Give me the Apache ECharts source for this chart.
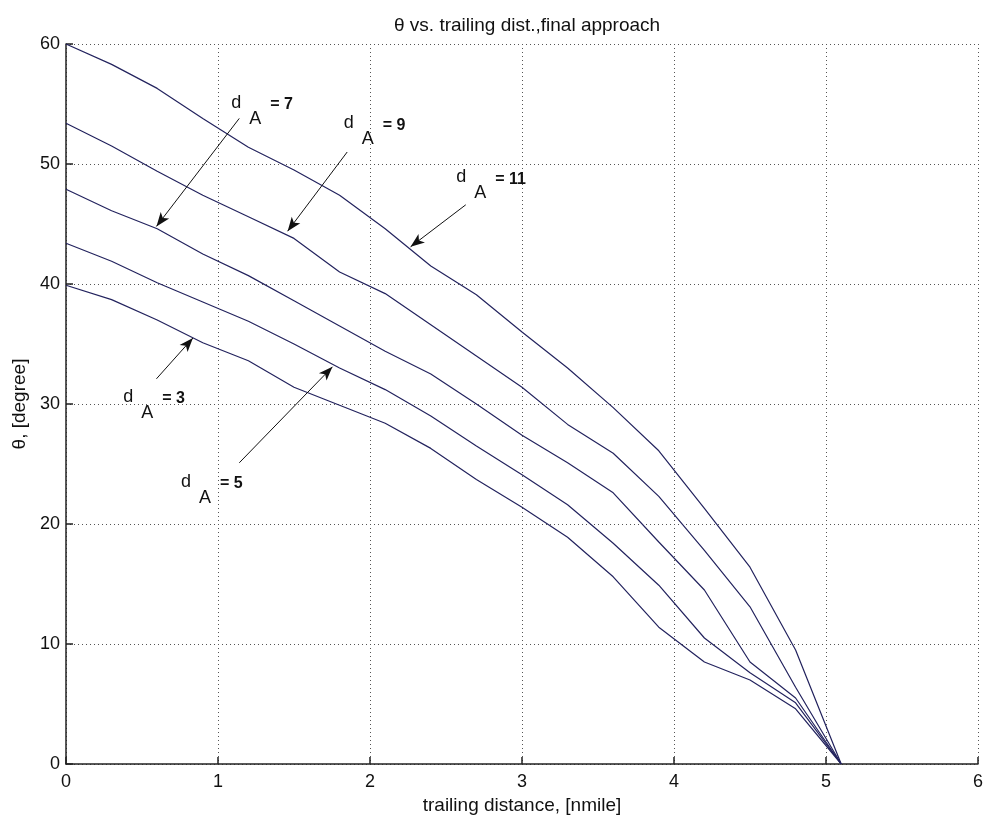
<!DOCTYPE html>
<html>
<head>
<meta charset="utf-8">
<script src="https://cdn.jsdelivr.net/npm/echarts@6/dist/echarts.min.js"></script>
<style>
  html, body { margin: 0; padding: 0; background: #fff; }
  #main { width: 986px; height: 820px; }
</style>
</head>
<body>
<div id="main"></div>
<script>
// trailing distance samples, nmile
const dist = [0, 0.3, 0.6, 0.9, 1.2, 1.5, 1.8, 2.1, 2.4, 2.7, 3.0, 3.3, 3.6, 3.9, 4.2, 4.5, 4.8, 5.1]

// theta in degree, one curve per d_A
const thetaA11 = [60, 58.3, 56.3, 53.8, 51.4, 49.5, 47.4, 44.6, 41.5, 39.1, 36.0, 33.0, 29.7, 26.1, 21.3, 16.4, 9.5, 0]
const thetaA9 = [53.4, 51.5, 49.4, 47.4, 45.6, 43.8, 41.0, 39.2, 36.6, 34.0, 31.4, 28.3, 25.9, 22.3, 17.8, 13.1, 6.4, 0]
const thetaA7 = [47.9, 46.1, 44.6, 42.5, 40.7, 38.6, 36.5, 34.4, 32.5, 30.0, 27.4, 25.1, 22.6, 18.5, 14.5, 8.5, 5.5, 0]
const thetaA5 = [43.4, 41.9, 40.1, 38.5, 36.9, 35.0, 33.0, 31.2, 29.0, 26.5, 24.1, 21.6, 18.4, 14.9, 10.5, 7.6, 5.1, 0]
const thetaA3 = [39.9, 38.7, 37.0, 35.1, 33.6, 31.4, 29.9, 28.4, 26.3, 23.7, 21.4, 18.9, 15.6, 11.4, 8.5, 7.0, 4.6, 0]

// annotations (data coords)
const noteValue = ['7', '9', '11', '3', '5']
const noteAt = [[1.12, 55.1], [1.86, 53.4], [2.60, 48.9], [0.41, 30.6], [0.79, 23.5]]
const arrowFrom = [[1.14, 53.8], [1.85, 51.0], [2.63, 46.6], [0.595, 32.1], [1.14, 25.1]]
const arrowTo = [[0.595, 44.8], [1.458, 44.4], [2.267, 43.1], [0.835, 35.5], [1.753, 33.1]]

const font = '"Liberation Sans", Arial, Helvetica, sans-serif'
const lineColor = '#23235e'

const pair = (ys) => dist.map((x, i) => [x, ys[i]])

const chart = echarts.init(document.getElementById('main'))

const option = {
  animation: false,
  backgroundColor: '#fff',
  title: {
    text: 'θ vs. trailing dist.,final approach',
    left: 389,
    top: 11,
    textStyle: { fontFamily: font, fontSize: 19, fontWeight: 'normal', color: '#111' }
  },
  grid: { left: 66, right: 5, top: 44, bottom: 56 },
  xAxis: {
    type: 'value',
    min: 0,
    max: 6,
    interval: 1,
    name: 'trailing distance, [nmile]',
    nameLocation: 'middle',
    nameGap: 32,
    nameTextStyle: { fontFamily: font, fontSize: 19, color: '#111' },
    axisLine: { lineStyle: { color: '#222', width: 1.5 } },
    axisTick: { inside: true, length: 7, lineStyle: { color: '#222', width: 1.5 } },
    axisLabel: { fontFamily: font, fontSize: 18, color: '#111', margin: 9 },
    splitLine: { show: true, lineStyle: { color: '#555', type: [1, 3], width: 1 } }
  },
  yAxis: {
    type: 'value',
    min: 0,
    max: 60,
    interval: 10,
    name: 'θ, [degree]',
    nameLocation: 'middle',
    nameGap: 34,
    nameTextStyle: { fontFamily: font, fontSize: 19, color: '#111' },
    axisLine: { show: true, lineStyle: { color: '#222', width: 1.5 } },
    axisTick: { show: true, inside: true, length: 7, lineStyle: { color: '#222', width: 1.5 } },
    axisLabel: { fontFamily: font, fontSize: 18, color: '#111', margin: 6 },
    splitLine: { show: true, lineStyle: { color: '#555', type: [1, 3], width: 1 } }
  },
  series: [
    { name: 'dA=11', data: pair(thetaA11) },
    { name: 'dA=9', data: pair(thetaA9) },
    { name: 'dA=7', data: pair(thetaA7) },
    { name: 'dA=5', data: pair(thetaA5) },
    { name: 'dA=3', data: pair(thetaA3) }
  ].map(function (s, i) {
    const out = {
      name: s.name,
      type: 'line',
      data: s.data,
      symbol: 'none',
      lineStyle: { color: lineColor, width: 1.2 },
      z: 3
    }
    if (i === 0) {
      out.markLine = {
        silent: true,
        symbol: ['none', 'arrow'],
        symbolSize: [8, 14],
        label: { show: false },
        lineStyle: { color: '#111', width: 1, type: 'solid' },
        data: arrowFrom.map((p, k) => [{ coord: p }, { coord: arrowTo[k] }])
      }
    }
    return out
  })
}

chart.setOption(option)

// d_A labels, placed from data coordinates
const notes = noteAt.map(function (p, k) {
  const px = chart.convertToPixel({ gridIndex: 0 }, p)
  return {
    type: 'group',
    x: px[0],
    y: px[1],
    children: [
      { type: 'text', x: 0, y: 0, style: { text: 'd', font: '18px ' + font, fill: '#111', align: 'center', verticalAlign: 'middle' } },
      { type: 'text', x: 19, y: 16, style: { text: 'A', font: '18px ' + font, fill: '#111', align: 'center', verticalAlign: 'middle' } },
      { type: 'text', x: 34, y: 2, style: { text: '= ' + noteValue[k], font: 'bold 16px ' + font, fill: '#111', align: 'left', verticalAlign: 'middle' } }
    ]
  }
})

chart.setOption({ graphic: notes })
</script>
</body>
</html>
